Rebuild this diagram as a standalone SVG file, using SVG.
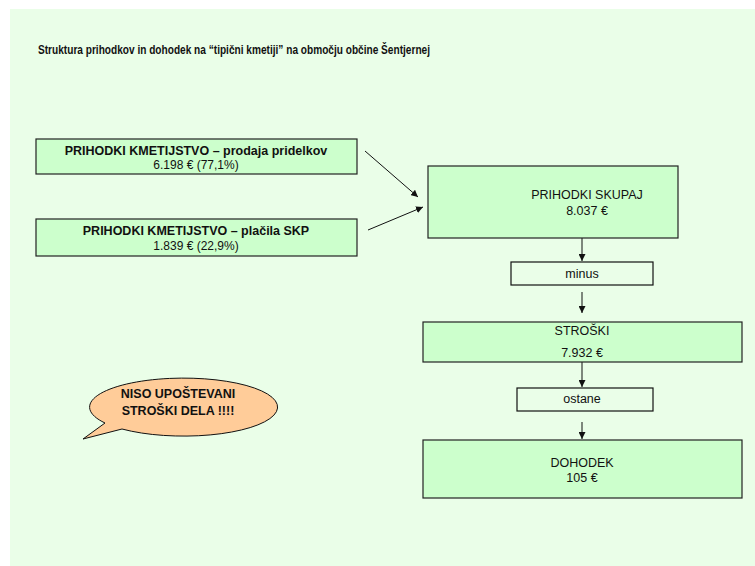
<svg xmlns="http://www.w3.org/2000/svg" width="755" height="566" viewBox="0 0 755 566">
<defs>
<style>
.box{fill:#ccffcc;stroke:#222;stroke-width:1.2}
.lbl{fill:none;stroke:#111;stroke-width:1.2}
text{font-family:"Liberation Sans",Arial,sans-serif;font-size:12.5px;fill:#111;text-anchor:middle}
.b{font-weight:bold}
.s{font-size:12px}
.conn line{stroke:#111;stroke-width:1;marker-end:url(#ah)}
</style>
<marker id="ah" viewBox="0 0 10 10" refX="10" refY="5" markerWidth="7" markerHeight="7" orient="auto" markerUnits="userSpaceOnUse">
<path d="M0,0 L10,5 L0,10 z" fill="#111"/>
</marker>
</defs>
<rect width="755" height="566" fill="#ffffff"/>
<rect x="10" y="9" width="745" height="557" fill="#eafee8"/>
<text class="b" x="38" y="54" style="text-anchor:start;font-size:13px" textLength="392" lengthAdjust="spacingAndGlyphs">Struktura prihodkov in dohodek na “tipični kmetiji” na območju občine Šentjernej</text>
<g class="conn">
<line x1="365" y1="151" x2="418" y2="197"/>
<line x1="368" y1="230" x2="423" y2="207"/>
<line x1="582" y1="238" x2="582" y2="261"/>
<line x1="582" y1="292" x2="582" y2="313"/>
<line x1="582" y1="362" x2="582" y2="387"/>
<line x1="582" y1="422" x2="582" y2="439"/>
</g>
<g id="n1">
<rect class="box" x="36" y="139" width="321" height="35"/>
<text class="b" x="196" y="155">PRIHODKI KMETIJSTVO – prodaja pridelkov</text>
<text class="s" x="196" y="168.5">6.198 € (77,1%)</text>
</g>
<g id="n2">
<rect class="box" x="36" y="219" width="321" height="37"/>
<text class="b" x="196" y="235">PRIHODKI KMETIJSTVO – plačila SKP</text>
<text class="s" x="196" y="249.5">1.839 € (22,9%)</text>
</g>
<g id="n3">
<rect class="box" x="428" y="166" width="250" height="72"/>
<text x="587" y="199">PRIHODKI SKUPAJ</text>
<text x="587" y="215">8.037 €</text>
</g>
<g id="n4">
<rect class="lbl" x="511" y="262" width="142" height="23"/>
<text x="582" y="278">minus</text>
</g>
<g id="n5">
<rect class="box" x="423" y="322" width="319" height="40"/>
<text x="582" y="335">STROŠKI</text>
<text x="582" y="357">7.932 €</text>
</g>
<g id="n6">
<rect class="lbl" x="517" y="388" width="136" height="23"/>
<text x="582" y="403">ostane</text>
</g>
<g id="n7">
<rect class="box" x="423" y="440" width="319" height="58"/>
<text x="582" y="467">DOHODEK</text>
<text x="582" y="482">105  €</text>
</g>
<g id="n8">
<path d="M122,429 A94,29 0 1 0 105,423 L83,439 Z" fill="#ffcc99" stroke="#111" stroke-width="1"/>
<text class="b" x="178" y="398">NISO UPOŠTEVANI</text>
<text class="b" x="178" y="415">STROŠKI DELA !!!!</text>
</g>
</svg>
